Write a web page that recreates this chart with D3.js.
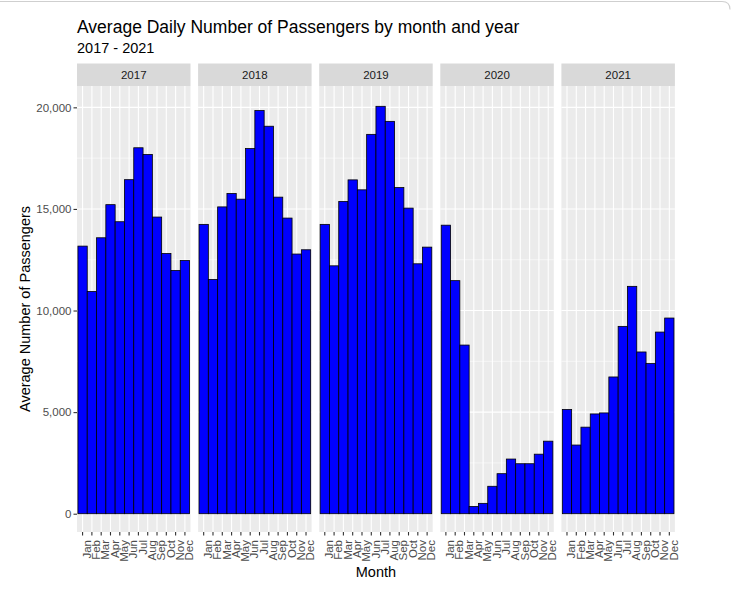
<!DOCTYPE html>
<html>
<head>
<meta charset="utf-8">
<script src="https://cdn.jsdelivr.net/npm/d3@7"></script>
<style>
  body { margin: 0; background: #fff; }
  svg { font-family: "Liberation Sans", Arial, Helvetica, sans-serif; }
</style>
</head>
<body>
<div id="chart"></div>
<script>
// data
const years = ["2017", "2018", "2019", "2020", "2021"];
const months = ["Jan", "Feb", "Mar", "Apr", "May", "Jun", "Jul", "Aug", "Sep", "Oct", "Nov", "Dec"];
const pax2017 = [13170, 10940, 13580, 15210, 14370, 16440, 18010, 17680, 14600, 12810, 11970, 12460];
const pax2018 = [14240, 11530, 15100, 15760, 15480, 17970, 19840, 19070, 15580, 14550, 12780, 12990];
const pax2019 = [14240, 12200, 15370, 16430, 15940, 18670, 20050, 19310, 16050, 15040, 12300, 13120];
const pax2020 = [14200, 11470, 8300, 360, 510, 1350, 1970, 2690, 2460, 2460, 2930, 3570];
const pax2021 = [5130, 3380, 4260, 4910, 4960, 6730, 9220, 11190, 7960, 7390, 8940, 9630];
const yTicks = [0, 5000, 10000, 15000, 20000];
const yMinor = [2500, 7500, 12500, 17500];

const seriesByYear = [pax2017, pax2018, pax2019, pax2020, pax2021];

const width = 732, height = 596;
const panelLeft = 77, panelW = 113.5, panelGap = 7.6;
const panelTop = 86, panelBottom = 532;
const stripTop = 63.5;

const svg = d3.select("#chart").append("svg")
    .attr("width", width)
    .attr("height", height);

// screenshot frame line at the top
svg.append("path")
    .attr("d", "M0,1.5 L722,1.5 Q730,1.5 730,9.5")
    .attr("fill", "none")
    .attr("stroke", "#cfcfcf")
    .attr("stroke-width", 1.2);

svg.append("text")
    .attr("x", panelLeft)
    .attr("y", 33)
    .style("font-size", "17.5px")
    .style("fill", "#000")
    .text("Average Daily Number of Passengers by month and year");

svg.append("text")
    .attr("x", panelLeft)
    .attr("y", 53)
    .style("font-size", "14.5px")
    .style("fill", "#000")
    .text("2017 - 2021");

const y = d3.scaleLinear()
    .domain([-900, 21050])
    .range([panelBottom, panelTop]);

const fmt = d3.format(",");

years.forEach((yr, i) => {
    const x0 = panelLeft + i * (panelW + panelGap);
    const data = months.map((m, j) => ({ month: m, value: seriesByYear[i][j] }));

    const x = d3.scaleBand()
        .domain(months)
        .range([x0, x0 + panelW])
        .paddingInner(0)
        .paddingOuter(0.1);

    const g = svg.append("g").attr("class", "panel");

    // strip
    g.append("rect")
        .attr("x", x0)
        .attr("y", stripTop)
        .attr("width", panelW)
        .attr("height", panelTop - stripTop)
        .attr("fill", "#d9d9d9");

    g.append("text")
        .attr("x", x0 + panelW / 2)
        .attr("y", (stripTop + panelTop) / 2)
        .attr("dy", "0.36em")
        .attr("text-anchor", "middle")
        .style("font-size", "11.5px")
        .style("fill", "#1a1a1a")
        .text(yr);

    // panel background
    g.append("rect")
        .attr("x", x0)
        .attr("y", panelTop)
        .attr("width", panelW)
        .attr("height", panelBottom - panelTop)
        .attr("fill", "#ebebeb");

    g.selectAll(".minor")
        .data(yMinor)
        .enter().append("line")
        .attr("x1", x0).attr("x2", x0 + panelW)
        .attr("y1", d => y(d)).attr("y2", d => y(d))
        .attr("stroke", "#fff")
        .attr("stroke-width", 0.55);

    g.selectAll(".major")
        .data(yTicks)
        .enter().append("line")
        .attr("x1", x0).attr("x2", x0 + panelW)
        .attr("y1", d => y(d)).attr("y2", d => y(d))
        .attr("stroke", "#fff")
        .attr("stroke-width", 1.1);

    g.selectAll(".vgrid")
        .data(months)
        .enter().append("line")
        .attr("x1", d => x(d) + x.bandwidth() / 2)
        .attr("x2", d => x(d) + x.bandwidth() / 2)
        .attr("y1", panelTop).attr("y2", panelBottom)
        .attr("stroke", "#fff")
        .attr("stroke-width", 1.1);

    g.selectAll(".bar")
        .data(data)
        .enter().append("rect")
        .attr("class", "bar")
        .attr("x", d => x(d.month))
        .attr("y", d => y(d.value))
        .attr("width", x.bandwidth())
        .attr("height", d => y(0) - y(d.value))
        .attr("fill", "#0000ff")
        .attr("stroke", "#000")
        .attr("stroke-width", 0.8);

    // x axis
    const xAxis = svg.append("g")
        .attr("transform", `translate(0,${panelBottom})`)
        .call(d3.axisBottom(x).tickSizeOuter(0).tickSize(3.5).tickPadding(2));
    xAxis.select(".domain").remove();
    xAxis.selectAll(".tick line").attr("stroke", "#333333").attr("stroke-width", 1.1);
    xAxis.selectAll(".tick text")
        .attr("transform", "rotate(-90)")
        .attr("x", -8)
        .attr("y", 0)
        .attr("dy", "0.72em")
        .attr("text-anchor", "end")
        .style("font-size", "11.5px")
        .style("font-family", "'Liberation Sans', Arial, sans-serif")
        .style("fill", "#4d4d4d");
});

// y axis
const yAxis = svg.append("g")
    .attr("transform", `translate(${panelLeft},0)`)
    .call(d3.axisLeft(y).tickValues(yTicks).tickFormat(fmt).tickSize(3.5).tickPadding(2));
yAxis.select(".domain").remove();
yAxis.selectAll(".tick line").attr("stroke", "#333333").attr("stroke-width", 1.1);
yAxis.selectAll(".tick text")
    .style("font-size", "11.5px")
    .style("font-family", "'Liberation Sans', Arial, sans-serif")
    .style("fill", "#4d4d4d");

svg.append("text")
    .attr("transform", `translate(30,${(panelTop + panelBottom) / 2}) rotate(-90)`)
    .attr("text-anchor", "middle")
    .style("font-size", "14.5px")
    .style("fill", "#000")
    .text("Average Number of Passengers");

const lastRight = panelLeft + years.length * panelW + (years.length - 1) * panelGap;
svg.append("text")
    .attr("x", (panelLeft + lastRight) / 2)
    .attr("y", 577)
    .attr("text-anchor", "middle")
    .style("font-size", "14.5px")
    .style("fill", "#000")
    .text("Month");
</script>
</body>
</html>
